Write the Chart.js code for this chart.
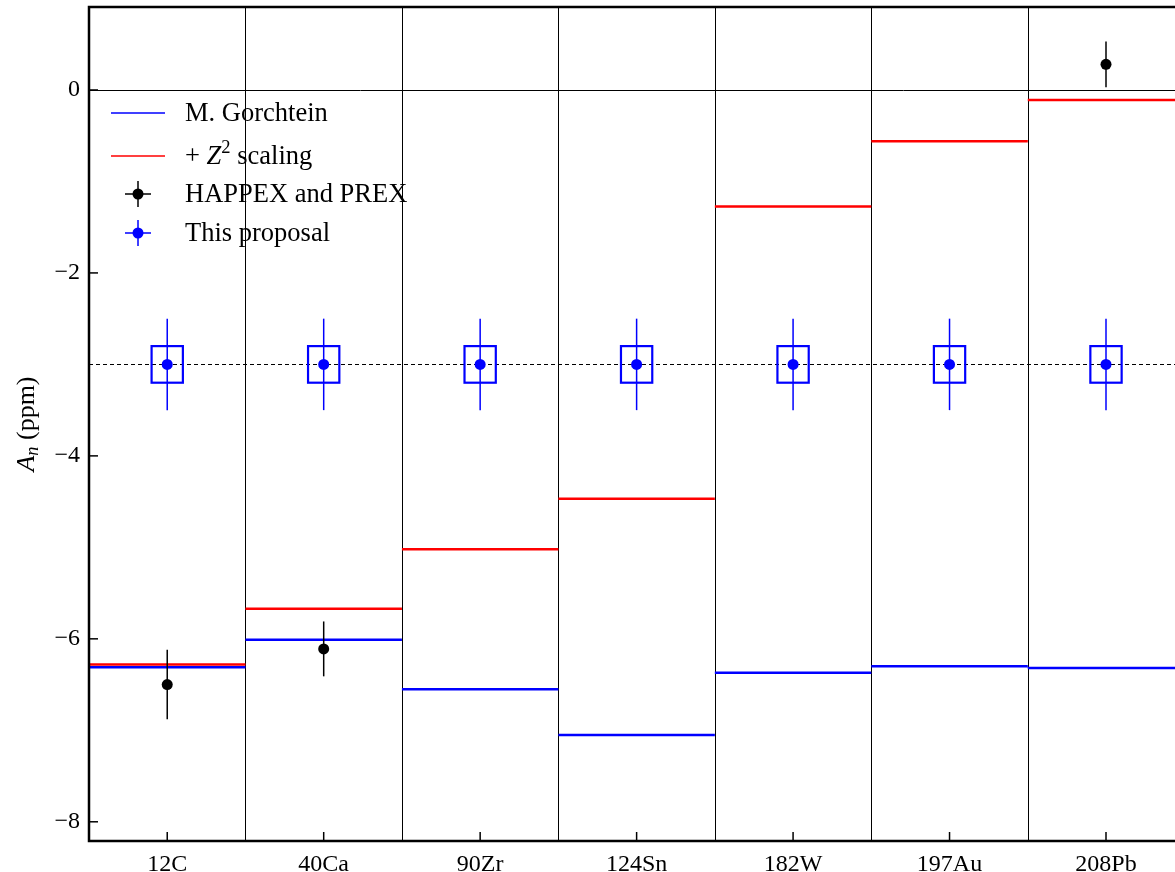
<!DOCTYPE html>
<html>
<head>
<meta charset="utf-8">
<script src="https://cdn.jsdelivr.net/npm/chart.js@4.4.1/dist/chart.umd.min.js"></script>
<style>
  html, body { margin: 0; padding: 0; background: #fff; overflow: hidden; }
  canvas { display: block; }
</style>
</head>
<body>
<canvas id="chart" width="1175" height="872" style="width:1175px;height:872px"></canvas>
<script>
// targets and values
var targets = ['12C', '40Ca', '90Zr', '124Sn', '182W', '197Au', '208Pb'];
var gorchtein = [-6.31, -6.01, -6.55, -7.05, -6.37, -6.30, -6.32];
var z2scaling = [-6.28, -5.67, -5.02, -4.47, -1.275, -0.56, -0.11];
var happexTargets = ['12C', '40Ca', '208Pb'];
var happexValues = [-6.50, -6.11, 0.28];
var happexErrors = [0.38, 0.30, 0.25];
var proposalValues = [-3, -3, -3, -3, -3, -3, -3];
var proposalErrors = [0.5, 0.5, 0.5, 0.5, 0.5, 0.5, 0.5];
var proposalSyst = [0.2, 0.2, 0.2, 0.2, 0.2, 0.2, 0.2];
var yTicks = [-8, -6, -4, -2, 0];
var refLine = -3;

var FONT = "'Liberation Serif', 'DejaVu Serif', serif";
var BLUE = '#0000ff', RED = '#ff0000';

function steps(values) {
  var pts = [];
  values.forEach(function(v, i) {
    pts.push({x: i - 0.5, y: v}, {x: i + 0.5, y: v}, {x: i + 0.5, y: null});
  });
  return pts;
}

function noPadding(s) {
  s.paddingTop = 0; s.paddingBottom = 0; s.paddingLeft = 0; s.paddingRight = 0;
}

// separators, zero line and dashed reference line under the data
var background = {
  id: 'background',
  beforeDatasetsDraw: function(chart) {
    var ctx = chart.ctx, a = chart.chartArea, xs = chart.scales.x, ys = chart.scales.y;
    ctx.save();
    ctx.strokeStyle = '#000';
    ctx.lineWidth = 1;
    for (var i = 0; i < targets.length; i++) {
      var px = Math.round(xs.getPixelForValue(i + 0.5)) + 0.5;
      if (px > a.right) continue;
      ctx.beginPath(); ctx.moveTo(px, a.top); ctx.lineTo(px, a.bottom); ctx.stroke();
    }
    var y0 = Math.round(ys.getPixelForValue(0)) + 0.5;
    ctx.beginPath(); ctx.moveTo(a.left, y0); ctx.lineTo(a.right, y0); ctx.stroke();
    var y3 = Math.round(ys.getPixelForValue(refLine)) + 0.5;
    ctx.setLineDash([4, 3]);
    ctx.beginPath(); ctx.moveTo(a.left, y3); ctx.lineTo(a.right, y3); ctx.stroke();
    ctx.restore();
  }
};

// error bars and boxes drawn just before their points
var errorBars = {
  id: 'errorBars',
  beforeDatasetDraw: function(chart, args) {
    var ds = chart.data.datasets[args.index];
    if (!ds.yErrors) return;
    var ctx = chart.ctx, a = chart.chartArea, xs = chart.scales.x, ys = chart.scales.y;
    ctx.save();
    ctx.beginPath(); ctx.rect(a.left, a.top, a.right - a.left, a.bottom - a.top); ctx.clip();
    ctx.strokeStyle = ds.backgroundColor;
    ds.data.forEach(function(p, i) {
      var px = xs.getPixelForValue(p.x);
      ctx.lineWidth = 1.5;
      ctx.beginPath();
      ctx.moveTo(px, ys.getPixelForValue(p.y + ds.yErrors[i]));
      ctx.lineTo(px, ys.getPixelForValue(p.y - ds.yErrors[i]));
      ctx.stroke();
      if (ds.boxes) {
        var x1 = xs.getPixelForValue(p.x - 0.1), x2 = xs.getPixelForValue(p.x + 0.1);
        var y1 = ys.getPixelForValue(p.y + ds.boxes[i]), y2 = ys.getPixelForValue(p.y - ds.boxes[i]);
        ctx.lineWidth = 2.2;
        ctx.strokeRect(x1, y1, x2 - x1, y2 - y1);
      }
    });
    ctx.restore();
  }
};

function drawParts(ctx, parts, x, y, size) {
  parts.forEach(function(p) {
    var s = p.sup || p.sub ? size * 0.7 : size;
    ctx.font = (p.italic ? 'italic ' : '') + s + 'px ' + FONT;
    var dy = p.sup ? -size * 0.33 : (p.sub ? size * 0.25 : 0);
    ctx.fillText(p.t, x, y + dy);
    x += ctx.measureText(p.t).width;
  });
}

function partsWidth(ctx, parts, size) {
  var w = 0;
  parts.forEach(function(p) {
    var s = p.sup || p.sub ? size * 0.7 : size;
    ctx.font = (p.italic ? 'italic ' : '') + s + 'px ' + FONT;
    w += ctx.measureText(p.t).width;
  });
  return w;
}

var legendItems = [
  {kind: 'line', color: BLUE, parts: [{t: 'M. Gorchtein'}], y: 113},
  {kind: 'line', color: RED, parts: [{t: '+ '}, {t: 'Z', italic: true}, {t: '2', sup: true}, {t: ' scaling'}], y: 156},
  {kind: 'point', color: '#000', parts: [{t: 'HAPPEX and PREX'}], y: 194},
  {kind: 'point', color: BLUE, parts: [{t: 'This proposal'}], y: 233}
];

var frame = {
  id: 'frame',
  afterDraw: function(chart) {
    var ctx = chart.ctx, a = chart.chartArea, xs = chart.scales.x, ys = chart.scales.y;
    ctx.save();
    // inward ticks
    ctx.strokeStyle = '#000';
    ctx.lineWidth = 1.5;
    yTicks.forEach(function(v) {
      var py = ys.getPixelForValue(v);
      ctx.beginPath(); ctx.moveTo(a.left, py); ctx.lineTo(a.left + 9, py); ctx.stroke();
    });
    targets.forEach(function(t, i) {
      var px = xs.getPixelForValue(i);
      ctx.beginPath(); ctx.moveTo(px, a.bottom); ctx.lineTo(px, a.bottom - 9); ctx.stroke();
    });
    // spines
    ctx.lineWidth = 2.5;
    ctx.beginPath();
    ctx.moveTo(a.right + 2, a.top); ctx.lineTo(a.left, a.top);
    ctx.lineTo(a.left, a.bottom); ctx.lineTo(a.right + 2, a.bottom);
    ctx.stroke();

    // legend
    ctx.textBaseline = 'middle';
    legendItems.forEach(function(it) {
      ctx.strokeStyle = it.color;
      ctx.fillStyle = it.color;
      ctx.lineWidth = 1.5;
      if (it.kind === 'line') {
        ctx.beginPath(); ctx.moveTo(111, it.y); ctx.lineTo(165, it.y); ctx.stroke();
      } else {
        ctx.beginPath();
        ctx.moveTo(138, it.y - 13); ctx.lineTo(138, it.y + 13);
        ctx.moveTo(125, it.y); ctx.lineTo(151, it.y);
        ctx.stroke();
        ctx.beginPath(); ctx.arc(138, it.y, 5.5, 0, Math.PI * 2); ctx.fill();
      }
      ctx.fillStyle = '#000';
      drawParts(ctx, it.parts, 185, it.y + 1, 26.5);
    });

    // y axis title
    var title = [{t: 'A', italic: true}, {t: 'n', italic: true, sub: true}, {t: ' (ppm)'}];
    ctx.translate(27, (a.top + a.bottom) / 2);
    ctx.rotate(-Math.PI / 2);
    var w = partsWidth(ctx, title, 26);
    drawParts(ctx, title, -w / 2, 0, 26);
    ctx.restore();
  }
};

var happexData = happexTargets.map(function(t, i) {
  return {x: targets.indexOf(t), y: happexValues[i]};
});
var proposalData = proposalValues.map(function(v, i) { return {x: i, y: v}; });

new Chart(document.getElementById('chart'), {
  type: 'scatter',
  data: {
    datasets: [
      {label: 'HAPPEX and PREX', data: happexData, yErrors: happexErrors,
       backgroundColor: '#000', borderColor: '#000', pointRadius: 5.5, pointBorderWidth: 0, order: 1},
      {label: 'This proposal', data: proposalData, yErrors: proposalErrors, boxes: proposalSyst,
       backgroundColor: BLUE, borderColor: BLUE, pointRadius: 5.5, pointBorderWidth: 0, order: 2},
      {label: '+ Z^2 scaling', data: steps(z2scaling), showLine: true, spanGaps: false,
       borderColor: RED, borderWidth: 2.5, pointRadius: 0, order: 3},
      {label: 'M. Gorchtein', data: steps(gorchtein), showLine: true, spanGaps: false,
       borderColor: BLUE, borderWidth: 2.5, pointRadius: 0, order: 4}
    ]
  },
  options: {
    responsive: false,
    animation: false,
    devicePixelRatio: 1,
    layout: {autoPadding: false, padding: {top: 7, left: 0, right: 0, bottom: 0}},
    plugins: {legend: {display: false}, tooltip: {enabled: false}},
    scales: {
      x: {
        type: 'linear', min: -0.5, max: 6.441,
        grid: {display: false, drawTicks: false}, border: {display: false},
        afterBuildTicks: function(s) { s.ticks = targets.map(function(t, i) { return {value: i}; }); },
        afterFit: function(s) { s.height = 31; noPadding(s); },
        ticks: {
          autoSkip: false, maxRotation: 0, padding: 9, color: '#000',
          font: {family: FONT, size: 24},
          callback: function(v) { return targets[v]; }
        }
      },
      y: {
        type: 'linear', min: -8.21, max: 0.907,
        grid: {display: false, drawTicks: false}, border: {display: false},
        afterBuildTicks: function(s) { s.ticks = yTicks.map(function(v) { return {value: v}; }); },
        afterFit: function(s) { s.width = 89; noPadding(s); },
        ticks: {
          padding: 9, color: '#000',
          font: {family: FONT, size: 24},
          callback: function(v) { return v < 0 ? '\u2212' + Math.abs(v) : String(v); }
        }
      }
    }
  },
  plugins: [background, errorBars, frame]
});
</script>
</body>
</html>
